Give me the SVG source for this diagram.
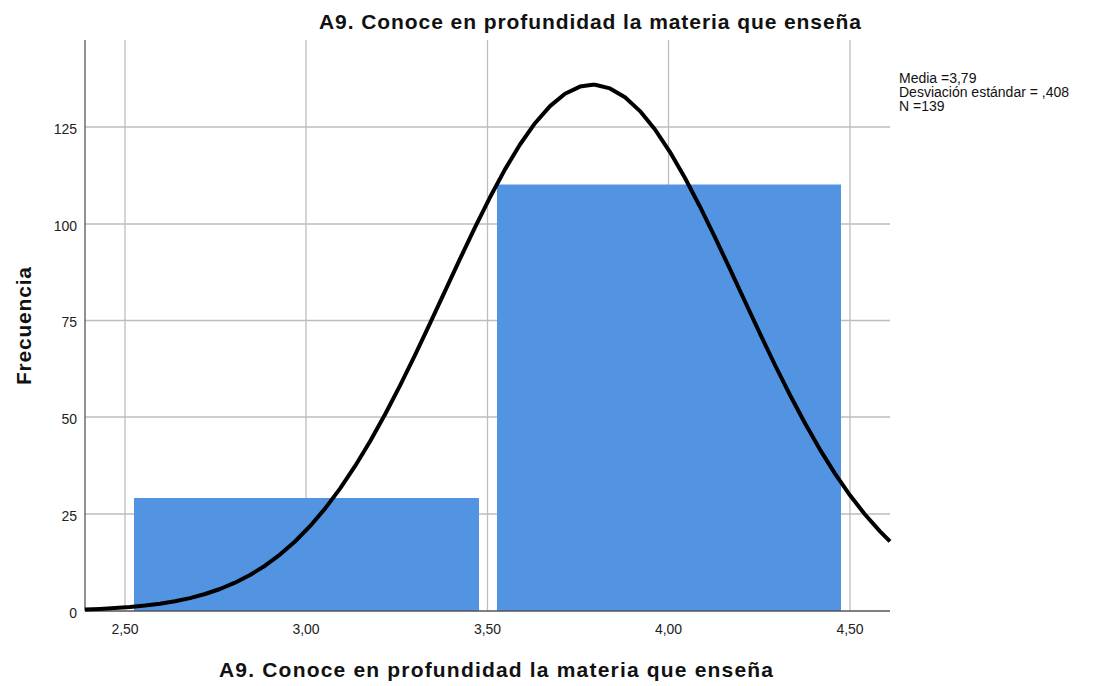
<svg xmlns="http://www.w3.org/2000/svg" width="1096" height="686" viewBox="0 0 1096 686">
<style>
.grid{stroke:#bdbdbd;stroke-width:1.3;fill:none}
.axis{stroke:#555;stroke-width:1.3;fill:none}
.bar{fill:#5294e2}
.tick{font-family:"Liberation Sans",Arial,sans-serif;font-size:14px;fill:#222}
.title{font-family:"Liberation Sans",Arial,sans-serif;font-size:21px;font-weight:bold;fill:#111}
.leg{font-family:"Liberation Sans",Arial,sans-serif;font-size:14px;fill:#111}
.curve{fill:none;stroke:#000;stroke-width:4;stroke-linejoin:round;stroke-linecap:butt}
</style>
<rect width="1096" height="686" fill="#fff"/>
<g id="grid">
<line class="grid" x1="125" y1="40" x2="125" y2="611"/>
<line class="grid" x1="306" y1="40" x2="306" y2="611"/>
<line class="grid" x1="487.5" y1="40" x2="487.5" y2="611"/>
<line class="grid" x1="668.5" y1="40" x2="668.5" y2="611"/>
<line class="grid" x1="850" y1="40" x2="850" y2="611"/>
<line class="grid" x1="85" y1="127" x2="890" y2="127"/>
<line class="grid" x1="85" y1="224" x2="890" y2="224"/>
<line class="grid" x1="85" y1="320.5" x2="890" y2="320.5"/>
<line class="grid" x1="85" y1="417" x2="890" y2="417"/>
<line class="grid" x1="85" y1="514" x2="890" y2="514"/>
</g>
<g id="bar1"><rect class="bar" x="134" y="498" width="345" height="113"/></g>
<g id="bar2"><rect class="bar" x="497" y="184.5" width="344" height="426.5"/></g>
<g id="axes">
<line class="axis" x1="85" y1="40" x2="85" y2="611"/>
<line class="axis" x1="85" y1="611" x2="890" y2="611"/>
</g>
<g id="connectors">
<path class="curve" d="M85,609.5 L100,608.9 L115,608.1 L130,607.1 L145,605.6 L160,603.7 L175,601.2 L190,598.1 L205,594.0 L220,589.0 L235,582.7 L250,575.0 L265,565.7 L280,554.6 L295,541.5 L310,526.2 L325,508.6 L340,488.6 L355,466.2 L370,441.5 L385,414.5 L400,385.6 L415,355.1 L430,323.4 L445,291.2 L460,258.9 L475,227.4 L490,197.3 L505,169.4 L520,144.5 L535,123.2 L550,106.1 L565,93.8 L580,86.6 L592.6,84.7 L595,84.8 L610,88.4 L625,97.2 L640,111.1 L655,129.5 L670,152.1 L685,178.0 L700,206.7 L715,237.3 L730,269.2 L745,301.5 L760,333.6 L775,365.0 L790,395.0 L805,423.3 L820,449.6 L835,473.6 L850,495.3 L865,514.5 L880,531.3 L890,541.3"/>
</g>
<g id="ylabels" class="tick" text-anchor="end">
<text x="77" y="134">125</text>
<text x="77" y="231">100</text>
<text x="77" y="327">75</text>
<text x="77" y="424">50</text>
<text x="77" y="521">25</text>
<text x="77" y="618">0</text>
</g>
<g id="xlabels" class="tick" text-anchor="middle">
<text x="125" y="634">2,50</text>
<text x="306" y="634">3,00</text>
<text x="487.5" y="634">3,50</text>
<text x="668.5" y="634">4,00</text>
<text x="850" y="634">4,50</text>
</g>
<g id="titles">
<text class="title" x="319" y="29" textLength="542" lengthAdjust="spacing">A9. Conoce en profundidad la materia que enseña</text>
<text class="title" x="219" y="677" textLength="554" lengthAdjust="spacing">A9. Conoce en profundidad la materia que enseña</text>
<text class="title" x="-59" y="0" textLength="118" lengthAdjust="spacing" transform="translate(30.5,326) rotate(-90)">Frecuencia</text>
</g>
<g id="legend" class="leg">
<text x="899" y="82.5">Media =3,79</text>
<text x="899" y="96.5">Desviación estándar = ,408</text>
<text x="899" y="110.5">N =139</text>
</g>
</svg>
